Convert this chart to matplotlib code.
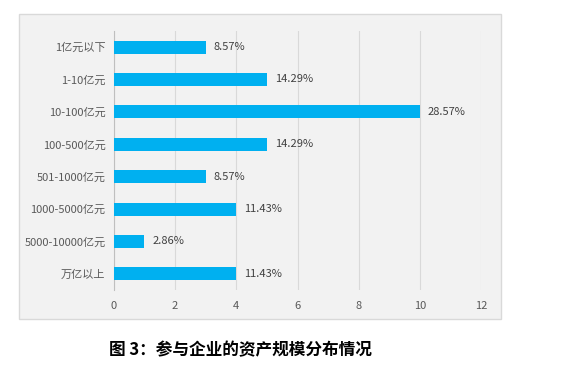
import matplotlib
matplotlib.use("Agg")
import matplotlib.pyplot as plt
from matplotlib.patches import Rectangle

plt.rcParams['font.family'] = ['Noto Sans CJK SC', 'DejaVu Sans']

categories = ["1亿元以下", "1-10亿元", "10-100亿元", "100-500亿元", "501-1000亿元",
              "1000-5000亿元", "5000-10000亿元", "万亿以上"]
counts = [3, 5, 10, 5, 3, 4, 1, 4]
labels = ["8.57%", "14.29%", "28.57%", "14.29%", "8.57%", "11.43%", "2.86%", "11.43%"]
xticks = [0, 2, 4, 6, 8, 10, 12]

fig = plt.figure(figsize=(5.75, 3.68), dpi=100)
fig.patch.set_facecolor("white")
box = Rectangle((0.033, 0.133), 0.838, 0.829, transform=fig.transFigure,
                facecolor="#f2f2f2", edgecolor="#d9d9d9", linewidth=1.0, zorder=-10)
fig.patches.append(box)

ax = fig.add_axes([0.198, 0.212, 0.639, 0.704])
ax.set_zorder(1)
ax.set_facecolor("#f2f2f2")
ypos = list(range(len(categories)))
ax.barh(ypos, counts, height=0.4, color="#00b0f0", zorder=3)
for y, v, t in zip(ypos, counts, labels):
    ax.text(v + 0.25, y, t, va="center", ha="left", fontsize=8, color="#404040")
ax.set_ylim(len(categories) - 0.5, -0.5)
ax.set_yticks(ypos)
ax.set_yticklabels(categories, fontsize=8, color="#595959")
ax.set_xlim(0, 12)
ax.set_xticks(xticks)
ax.set_xticklabels([str(x) for x in xticks], fontsize=8, color="#595959")
ax.grid(axis="x", color="#d9d9d9", linewidth=0.8, zorder=0)
ax.set_axisbelow(True)
for s in ["top", "right", "bottom"]:
    ax.spines[s].set_visible(False)
ax.spines["left"].set_color("#bfbfbf")
ax.tick_params(axis="y", length=0, pad=6)
ax.tick_params(axis="x", length=0, pad=8)

fig.text(0.418, 0.049, "图 3：参与企业的资产规模分布情况", ha="center", va="center",
         fontsize=12, fontweight="bold", color="black")

fig.savefig("out.png", dpi=100)
